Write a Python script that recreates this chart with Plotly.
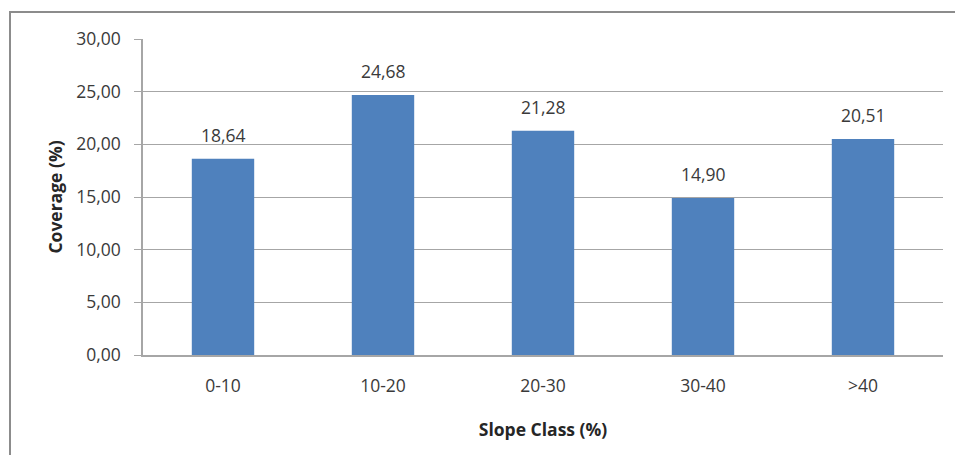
import plotly.graph_objects as go

categories = ["0-10", "10-20", "20-30", "30-40", ">40"]
values = [18.64, 24.68, 21.28, 14.90, 20.51]
y_ticks = [0, 5, 10, 15, 20, 25, 30]
y_tick_labels = ["0,00", "5,00", "10,00", "15,00", "20,00", "25,00", "30,00"]

labels = [f"{v:.2f}".replace(".", ",") for v in values]

font_family = "Open Sans, Liberation Sans, sans-serif"
FS = 17.5

fig = go.Figure()
fig.add_trace(go.Bar(
    x=categories, y=values,
    marker=dict(color="#4F81BD", line=dict(width=0)),
    width=0.39,
))

for c, v, t in zip(categories, values, labels):
    fig.add_annotation(x=c, y=v, text=t, showarrow=False, yanchor="bottom",
                       yshift=10, font=dict(family=font_family, size=FS, color="#3a3a3a"))

L, R, T, B = 143, 12, 39, 100
W, H = 955, 455
pw, ph = W - L - R, H - T - B

def px_x(p):
    return (p - L) / pw

def px_y(p):
    return (H - B - p) / ph

fig.add_shape(type="rect", xref="paper", yref="paper",
              x0=px_x(10), x1=px_x(970), y0=px_y(470), y1=px_y(12),
              line=dict(color="#8c8c8c", width=2), fillcolor="rgba(0,0,0,0)", layer="below")

fig.update_layout(
    width=W, height=H,
    margin=dict(l=L, r=R, t=T, b=B),
    paper_bgcolor="white", plot_bgcolor="white",
    showlegend=False,
    font=dict(family=font_family, size=FS, color="#3a3a3a"),
    xaxis=dict(
        showgrid=False, showline=True, linecolor="#a6a6a6", linewidth=1.5,
        ticks="", tickfont=dict(size=FS, color="#3a3a3a"),
        ticklabelstandoff=14,
        title=dict(text="<b>Slope Class (%)</b>", font=dict(size=FS, color="#262626"), standoff=28),
    ),
    yaxis=dict(
        range=[0, 30], tickvals=y_ticks, ticktext=y_tick_labels,
        showgrid=True, gridcolor="#a6a6a6", gridwidth=1,
        showline=True, linecolor="#a6a6a6", linewidth=1.5,
        ticks="outside", ticklen=7, tickcolor="#a6a6a6",
        tickfont=dict(size=FS, color="#3a3a3a"),
        ticklabelstandoff=10,
        zeroline=False,
        title=dict(text="<b>Coverage (%)</b>", font=dict(size=FS, color="#262626"), standoff=9),
    ),
)

fig.write_html("out.html")
